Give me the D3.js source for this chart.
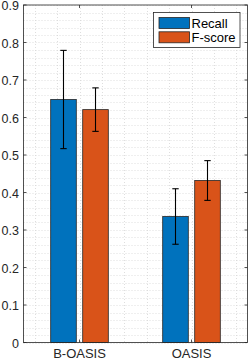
<!DOCTYPE html>
<html><head><meta charset="utf-8">
<script src="https://cdn.jsdelivr.net/npm/d3@7"></script>
<style>html,body{margin:0;padding:0;background:#fff;}svg{display:block;font-family:"Liberation Sans",Arial,sans-serif;}</style>
</head><body>
<script>
const categories = ["B-OASIS", "OASIS"];
const seriesNames = ["Recall", "F-score"];
const recall = [0.648, 0.336];
const recallErr = [0.131, 0.074];
const fscore = [0.621, 0.432];
const fscoreErr = [0.058, 0.053];
const yTicks = [0, 0.1, 0.2, 0.3, 0.4, 0.5, 0.6, 0.7, 0.8, 0.9];
const colors = ["#0072BD", "#D95319"];

const W = 249, H = 360;
const L = 23.5, R = 247.5, T = 5, B = 342.5;
const svg = d3.select("body").append("svg").attr("width", W).attr("height", H);
const x = d3.scaleLinear().domain([0.5, 2.5]).range([L, R]);
const y = d3.scaleLinear().domain([0, 0.9]).range([B, T]);

// grid
const gGrid = svg.append("g").attr("stroke", "#d6d6d6").attr("stroke-width", 0.8).attr("stroke-dasharray", "1,2");
const yMinor = d3.range(0, 0.9001, 0.02);
gGrid.selectAll("line.hy").data(yMinor).join("line")
  .attr("x1", L).attr("x2", R).attr("y1", d => Math.round(y(d)) + 0.5).attr("y2", d => Math.round(y(d)) + 0.5);
const xMinor = d3.range(0.6, 2.45, 0.2);
gGrid.selectAll("line.vx").data(xMinor).join("line")
  .attr("y1", T).attr("y2", B).attr("x1", d => Math.round(x(d)) + 0.5).attr("x2", d => Math.round(x(d)) + 0.5);

const series = [
  {name: seriesNames[0], vals: recall, err: recallErr, off: -0.1429, color: colors[0]},
  {name: seriesNames[1], vals: fscore, err: fscoreErr, off: 0.1429, color: colors[1]}
];
const bw = 0.2286;
series.forEach(s => {
  svg.append("g").selectAll("rect").data(s.vals).join("rect")
    .attr("x", (d, i) => x(i + 1 + s.off - bw / 2))
    .attr("width", x(bw) - x(0))
    .attr("y", d => y(d))
    .attr("height", d => y(0) - y(d))
    .attr("fill", s.color).attr("stroke", "#262626").attr("stroke-width", 0.8);
});
// error bars
series.forEach(s => {
  const g = svg.append("g").attr("stroke", "#000").attr("stroke-width", 1.1);
  s.vals.forEach((v, i) => {
    const cx = x(i + 1 + s.off);
    g.append("line").attr("x1", cx).attr("x2", cx).attr("y1", y(v - s.err[i])).attr("y2", y(v + s.err[i]));
    [v - s.err[i], v + s.err[i]].forEach(e => {
      g.append("line").attr("x1", cx - 3.2).attr("x2", cx + 3.2).attr("y1", y(e)).attr("y2", y(e));
    });
  });
});

// axes box
const ax = svg.append("g").attr("stroke", "#262626").attr("stroke-width", 0.8).attr("fill", "none");
ax.append("rect").attr("x", L).attr("y", T).attr("width", R - L).attr("height", B - T);
yTicks.forEach(t => {
  ax.append("line").attr("x1", L).attr("x2", L + 3).attr("y1", y(t)).attr("y2", y(t));
  ax.append("line").attr("x1", R - 3).attr("x2", R).attr("y1", y(t)).attr("y2", y(t));
});
categories.forEach((c, i) => {
  ax.append("line").attr("x1", x(i + 1)).attr("x2", x(i + 1)).attr("y1", B).attr("y2", B - 3);
  ax.append("line").attr("x1", x(i + 1)).attr("x2", x(i + 1)).attr("y1", T).attr("y2", T + 3);
});
// tick labels
svg.append("g").selectAll("text").data(yTicks).join("text")
  .attr("x", 19).attr("y", d => y(d)).attr("dy", "0.4em")
  .attr("text-anchor", "end").attr("font-size", 12.5).attr("fill", "#262626")
  .text(d => d === 0 ? "0" : d3.format(".1f")(d));
svg.append("g").selectAll("text").data(categories).join("text")
  .attr("x", (d, i) => x(i + 1)).attr("y", 357.5)
  .attr("text-anchor", "middle").attr("font-size", 13).attr("fill", "#262626")
  .text(d => d);

// legend
const lg = svg.append("g");
lg.append("rect").attr("x", 153.5).attr("y", 12.5).attr("width", 86.5).attr("height", 35)
  .attr("fill", "#fff").attr("stroke", "#262626").attr("stroke-width", 0.8);
series.forEach((s, i) => {
  const yy = 17.5 + i * 14.3;
  lg.append("rect").attr("x", 159).attr("y", yy).attr("width", 30.5).attr("height", 11)
    .attr("fill", s.color).attr("stroke", "#262626").attr("stroke-width", 0.8);
  lg.append("text").attr("x", 191.5).attr("y", yy + 5.5).attr("dy", "0.36em")
    .attr("font-size", 13).attr("fill", "#000").text(s.name);
});
</script>
</body></html>
